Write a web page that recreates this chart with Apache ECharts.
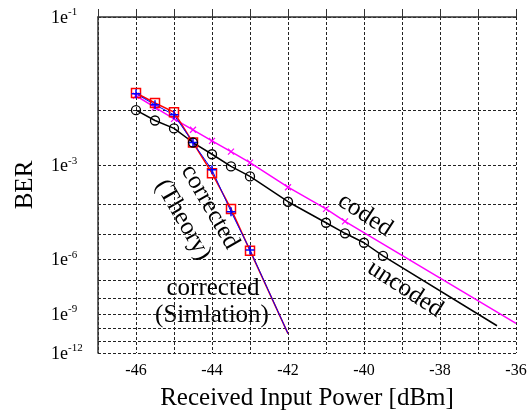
<!DOCTYPE html>
<html>
<head>
<meta charset="utf-8">
<script src="https://cdn.jsdelivr.net/npm/echarts@6/dist/echarts.min.js"></script>
<style>
html, body { margin: 0; padding: 0; background: #fff; }
#chart { width: 531px; height: 411px; }
</style>
</head>
<body>
<div id="chart"></div>
<script>
// received input power [dBm] and BER
const powerUncoded = [-46, -45.5, -45, -44.5, -44, -43.5, -43, -42, -41, -40.5, -40, -39.5, -36.5]
const berUncoded = [1.02e-2, 7.08e-3, 5.25e-3, 2.95e-3, 1.74e-3, 9.55e-4, 5.62e-4, 1.20e-4, 2.63e-5, 1.12e-5, 4.90e-6, 1.41e-6, 1.55e-10]
const powerCoded = [-46, -45.5, -45, -44.5, -44, -43.5, -43, -42, -41, -40.5, -36]
const berCoded = [1.62e-2, 1.12e-2, 7.53e-3, 4.98e-3, 3.17e-3, 1.97e-3, 1.16e-3, 3.01e-4, 7.33e-5, 2.94e-5, 2.31e-10]
const powerCorrected = [-46, -45.5, -45, -44.5, -44, -43.5, -43, -42]
const berTheory = [1.76e-2, 1.29e-2, 9.53e-3, 2.94e-3, 6.70e-4, 7.33e-5, 2.35e-6, 4.0e-11]
const berSimulation = [1.72e-2, 1.22e-2, 8.67e-3, 2.94e-3, 8.0e-4, 6.05e-5, 2.51e-6, 4.0e-11]

// y axis decades (BER = 1e-n)
const gridDecades = [1, 2, 3, 4, 5, 6, 7, 8, 9, 10, 11, 12]
const labelDecades = [1, 3, 6, 9, 12]
const xMin = -47
const xMax = -36

const FONT = 'Liberation Serif'

// BER plot scale: log10(-log10(BER))
const toAxis = ber => Math.log10(-Math.log10(ber))
const decadeToAxis = n => Math.log10(n)

// last point of each curve is drawn without a marker
function buildData(xs, bers) {
  return xs.map((x, i) => {
    const item = { value: [x, toAxis(bers[i])] }
    if (i === xs.length - 1) item.symbol = 'none'
    return item
  })
}

const xMark = 'path://M0,0L10,10M10,0L0,10'
const plusMark = 'path://M5,0L5,10M0,5L10,5'

const chart = echarts.init(document.getElementById('chart'))

const option = {
  animation: false,
  backgroundColor: '#fff',
  grid: {
    left: 98,
    right: 15,
    top: 17,
    bottom: 58,
    outerBoundsMode: 'none',
  },
  xAxis: {
    type: 'value',
    min: xMin,
    max: xMax,
    interval: 1,
    name: 'Received Input Power [dBm]',
    nameLocation: 'middle',
    nameGap: 33,
    nameTextStyle: { fontFamily: FONT, fontSize: 25, color: '#000' },
    axisLine: { lineStyle: { color: '#333', width: 1.5 } },
    axisTick: { inside: true, length: 8, lineStyle: { color: '#333', width: 1 } },
    axisLabel: {
      margin: 10,
      fontFamily: FONT,
      fontSize: 16,
      color: '#000',
      formatter: v => (v % 2 === 0 ? String(v) : ''),
    },
    splitLine: { show: true, lineStyle: { color: '#222', width: 1, type: [3, 2] } },
  },
  yAxis: {
    type: 'value',
    inverse: true,
    min: decadeToAxis(1),
    max: decadeToAxis(12),
    name: 'BER',
    nameLocation: 'middle',
    nameGap: 60,
    nameTextStyle: { fontFamily: FONT, fontSize: 25, color: '#000' },
    axisLine: { lineStyle: { color: '#333', width: 1.5 } },
    axisTick: { show: false, customValues: gridDecades.map(decadeToAxis) },
    axisLabel: {
      customValues: labelDecades.map(decadeToAxis),
      align: 'left',
      margin: 47,
      formatter: v => '{b|1e}{s|-' + Math.round(Math.pow(10, v)) + '}',
      rich: {
        b: { fontFamily: FONT, fontSize: 18, color: '#000', lineHeight: 20, verticalAlign: 'bottom' },
        s: { fontFamily: FONT, fontSize: 11, color: '#000', lineHeight: 20, verticalAlign: 'top', padding: [0, 0, 6, 0] },
      },
    },
    splitLine: { show: true, lineStyle: { color: '#222', width: 1, type: [3, 2] } },
  },
  series: [
    {
      name: 'coded',
      type: 'line',
      data: buildData(powerCoded, berCoded),
      symbol: xMark,
      symbolSize: 6,
      lineStyle: { color: '#ff00ff', width: 1.5 },
      itemStyle: { color: 'rgba(0,0,0,0)', borderColor: '#ff00ff', borderWidth: 1.2 },
    },
    {
      name: 'corrected (Theory)',
      type: 'line',
      data: buildData(powerCorrected, berTheory),
      symbol: 'rect',
      symbolSize: 9,
      lineStyle: { color: '#ff0000', width: 1.5 },
      itemStyle: { color: 'rgba(0,0,0,0)', borderColor: '#ff0000', borderWidth: 1.5 },
    },
    {
      name: 'corrected (Simlation)',
      type: 'line',
      data: buildData(powerCorrected, berSimulation),
      symbol: plusMark,
      symbolSize: 9,
      lineStyle: { color: '#0000ff', width: 1 },
      itemStyle: { color: 'rgba(0,0,0,0)', borderColor: '#0000ff', borderWidth: 1.5 },
    },
    {
      name: 'uncoded',
      type: 'line',
      data: buildData(powerUncoded, berUncoded),
      symbol: 'circle',
      symbolSize: 9,
      lineStyle: { color: '#000', width: 1.5 },
      itemStyle: { color: 'rgba(0,0,0,0)', borderColor: '#000', borderWidth: 1.3 },
    },
  ],
  graphic: [
    { type: 'text', x: 210, y: 207, rotation: -Math.PI / 3, style: { text: 'corrected', fontFamily: FONT, fontSize: 25, fill: '#000', align: 'center', verticalAlign: 'middle' } },
    { type: 'text', x: 183, y: 220, rotation: -Math.PI / 3, style: { text: '(Theory)', fontFamily: FONT, fontSize: 25, fill: '#000', align: 'center', verticalAlign: 'middle' } },
    { type: 'text', x: 213, y: 288, style: { text: 'corrected', fontFamily: FONT, fontSize: 25, fill: '#000', align: 'center', verticalAlign: 'middle' } },
    { type: 'text', x: 212, y: 315, style: { text: '(Simlation)', fontFamily: FONT, fontSize: 25, fill: '#000', align: 'center', verticalAlign: 'middle' } },
    { type: 'text', x: 365, y: 215, rotation: -33 * Math.PI / 180, style: { text: 'coded', fontFamily: FONT, fontSize: 25, fill: '#000', align: 'center', verticalAlign: 'middle' } },
    { type: 'text', x: 405, y: 289, rotation: -33 * Math.PI / 180, style: { text: 'uncoded', fontFamily: FONT, fontSize: 25, fill: '#000', align: 'center', verticalAlign: 'middle' } },
  ],
}

chart.setOption(option)
</script>
</body>
</html>
